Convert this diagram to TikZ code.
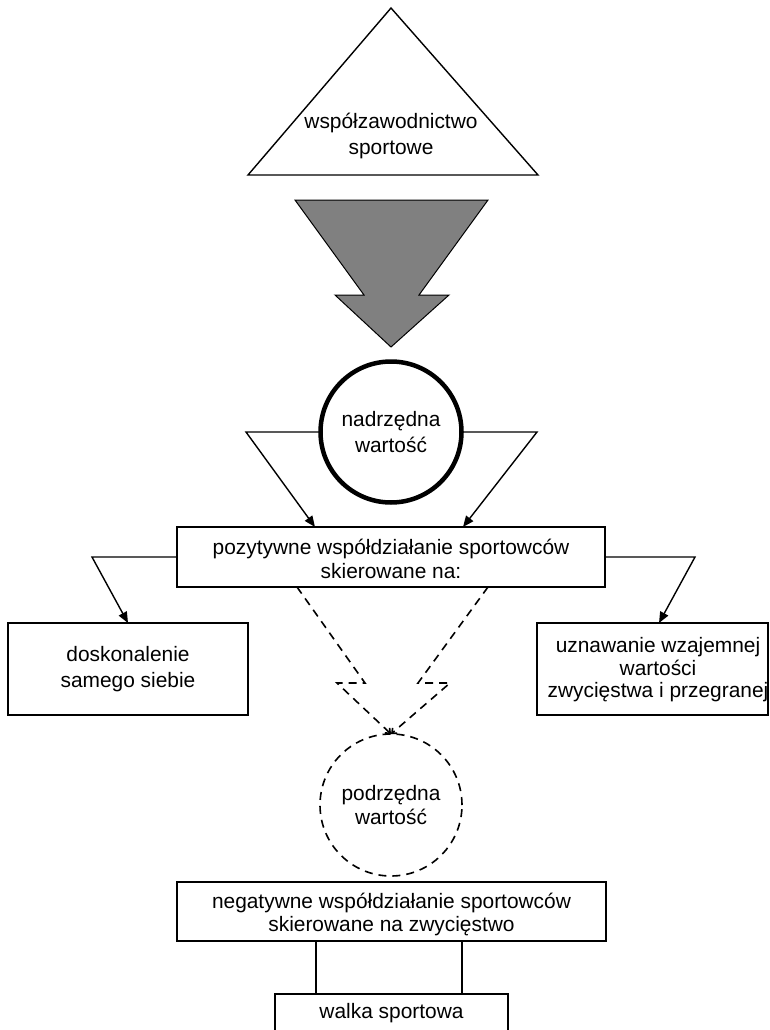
\documentclass[tikz,border=0pt]{standalone}
\usepackage{fontspec}
\setmainfont{Liberation Sans}
\usetikzlibrary{arrows.meta}
\definecolor{arrowgray}{RGB}{128,128,128}
\begin{document}
\begin{tikzpicture}[x=1pt,y=-1pt,
  every node/.style={inner sep=0pt, outer sep=0pt},
  txt/.style={align=center, font=\fontsize{20.9}{23.4}\selectfont},
  txtwide/.style={align=center, font=\fontsize{20.9}{25.4}\selectfont},
  box/.style={draw, line width=1.4pt, fill=white},
  link/.style={line width=1.4pt, line join=miter},
  arr/.style={link, -{Triangle[length=11pt,width=9pt]}},
  dashlink/.style={line width=1.6pt, dash pattern=on 8pt off 6pt, line join=miter,
    -{Straight Barb[length=4pt,width=7pt]}},
]
\useasboundingbox (0,0) rectangle (769,1030);
\clip (0,0) rectangle (769,1030);

% top triangle
\coordinate (triTop) at (391,8);
\coordinate (triLeft) at (248,175);
\coordinate (triRight) at (538,175);
\draw[line width=1.4pt, line join=miter, fill=white] (triTop) -- (triRight) -- (triLeft) -- cycle;
\node[txtwide] (triText) at (391,136) {współzawodnictwo\\sportowe};

% big grey block arrow
\draw[fill=arrowgray, line width=1pt, line join=miter]
  (295,200) -- (488,200) -- (419,295) -- (449,295) -- (391,347)
  -- (335,295) -- (364,295) -- cycle;

% superior value
\node[circle, draw, line width=4.5pt, minimum size=141pt, txtwide] (sup1) at (391,432)
  {nadrzędna\\wartość};

% positive cooperation box
\node[box, minimum width=428pt, minimum height=60pt] (pos) at (391,557) {};
\node[txt] (posText) at (391,559) {pozytywne współdziałanie sportowców\\skierowane na:};

% side boxes
\node[box, minimum width=240pt, minimum height=92pt, txtwide] (selfb) at (128,669)
  {doskonalenie\\samego siebie};
\node[box, minimum width=231pt, minimum height=92pt] (mutual) at (652.5,669) {};
\node[txt, font=\fontsize{20.9}{22.5}\selectfont] (mutualText) at (658,670)
  {uznawanie wzajemnej\\wartości\\zwycięstwa i przegranej};

% inferior value
\node[circle, draw, line width=1.6pt, dash pattern=on 8pt off 6pt, minimum size=142pt, txt]
  (inf1) at (391,805) {podrzędna\\wartość};

% negative cooperation box
\node[box, minimum width=429pt, minimum height=59pt] (neg) at (391.5,911.5) {};
\node[txt] (negText) at (391.5,914.5) {negatywne współdziałanie sportowców\\skierowane na zwycięstwo};

% sport fight box
\node[box, minimum width=233pt, minimum height=60pt] (fight) at (391.5,1024) {};
\node[txt, anchor=base] (fightText) at (391.5,1018) {walka sportowa};

% elbow points
\coordinate (cL) at (246,432);
\coordinate (cLt) at (315,527);
\coordinate (cR) at (537,432);
\coordinate (cRt) at (463,527);
\coordinate (pL) at (92,557);
\coordinate (pLt) at (128,623);
\coordinate (pR) at (695,557);
\coordinate (pRt) at (659,623);

\draw[arr] (sup1.west) -- (cL) -- (cLt);
\draw[arr] (sup1.east) -- (cR) -- (cRt);
\draw[arr] (pos.west) -- (pL) -- (pLt);
\draw[arr] (pos.east) -- (pR) -- (pRt);

% dashed links towards the inferior value
\coordinate (dL0) at (297,587);
\coordinate (dL1) at (365,683);
\coordinate (dL2) at (337,683);
\coordinate (dR0) at (488,587);
\coordinate (dR1) at (418,683);
\coordinate (dR2) at (450,683);
\draw[dashlink] (dL0) -- (dL1) -- (dL2) -- (inf1.north);
\draw[dashlink] (dR0) -- (dR1) -- (dR2) -- (inf1.north);

% links to the sport fight
\coordinate (nL) at (316,941);
\coordinate (nR) at (462,941);
\draw[link] (nL) -- (nL |- fight.north);
\draw[link] (nR) -- (nR |- fight.north);
\end{tikzpicture}
\end{document}
